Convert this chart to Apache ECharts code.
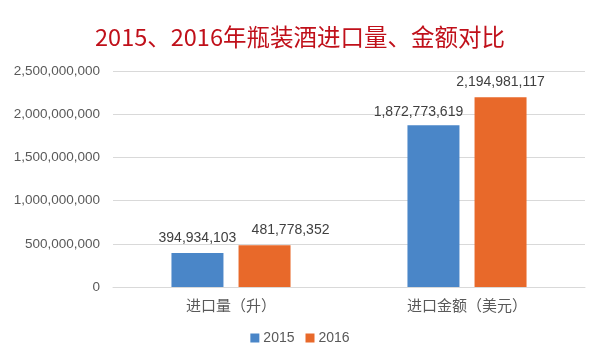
<!DOCTYPE html>
<html><head><meta charset="utf-8">
<script src="https://cdn.jsdelivr.net/npm/echarts@6/dist/echarts.min.js"></script>
<style>html,body{margin:0;padding:0;background:#fff}#c{width:600px;height:360px}</style>
</head><body><div id="c"></div>
<script>
var titleText = '2015、2016年瓶装酒进口量、金额对比';
var categories = ['进口量（升）', '进口金额（美元）'];
var seriesNames = ['2015', '2016'];
var values2015 = [394934103, 1872773619];
var values2016 = [481778352, 2194981117];
var yTicks = [0, 500000000, 1000000000, 1500000000, 2000000000, 2500000000];

var font = '"Noto Sans CJK SC", "Noto Sans", sans-serif';
var numFont = '"Liberation Sans", "Open Sans", sans-serif';
function fmt(v){ return String(v).replace(/\B(?=(\d{3})+(?!\d))/g, ','); }
var labelBase = {show:true,position:'top',color:'#404040',fontSize:14,fontFamily:numFont,distance:8,
  formatter:function(p){return fmt(p.value);}};
var chart = echarts.init(document.getElementById('c'), null, {renderer:'canvas'});
chart.setOption({
  animation:false,
  backgroundColor:'#fff',
  title:{text:titleText,left:'center',top:20,textStyle:{color:'#C0101A',fontSize:23.5,fontWeight:'normal',fontFamily:font}},
  legend:{data:seriesNames,bottom:10,left:'center',itemWidth:9,itemHeight:9,itemGap:11,icon:'rect',
    textStyle:{color:'#595959',fontSize:14,fontFamily:numFont,padding:[0,0,0,-1]}},
  grid:{left:113,right:15,top:71,bottom:73},
  xAxis:{type:'category',data:categories,
    axisLine:{lineStyle:{color:'#D9D9D9'}},axisTick:{show:false},
    axisLabel:{color:'#595959',fontSize:15,fontFamily:font,margin:11}},
  yAxis:{type:'value',min:yTicks[0],max:yTicks[yTicks.length-1],interval:yTicks[1]-yTicks[0],
    axisLine:{show:false},axisTick:{show:false},
    splitLine:{lineStyle:{color:'#D9D9D9'}},
    axisLabel:{color:'#595959',fontSize:13.5,fontFamily:numFont,margin:13,formatter:function(v){return fmt(v);}}},
  series:[
    {name:seriesNames[0],type:'bar',barWidth:52,barGap:'29%',itemStyle:{color:'#4A86C8'},label:labelBase,
     data:[{value:values2015[0]},{value:values2015[1],label:{offset:[-15,2]}}]},
    {name:seriesNames[1],type:'bar',barWidth:52,itemStyle:{color:'#E8692A'},label:labelBase,
     data:[{value:values2016[0],label:{offset:[26,0]}},{value:values2016[1]}]}
  ]
});
</script></body></html>
